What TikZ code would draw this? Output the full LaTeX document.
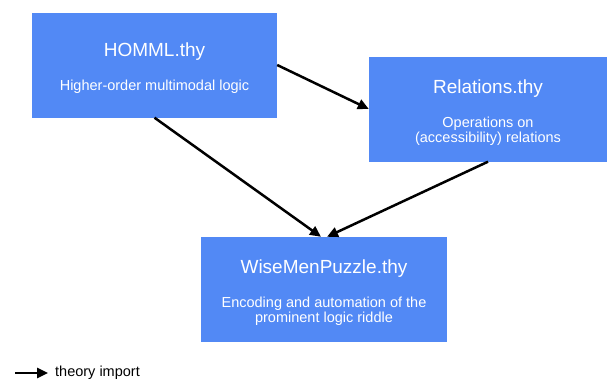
\documentclass[tikz,border=0pt]{standalone}
\usepackage{fontspec}
\setmainfont{Liberation Sans}
\usetikzlibrary{arrows.meta}
\definecolor{thyblue}{RGB}{82,137,245}
\newcommand{\thytitle}[1]{\rule{0pt}{21pt}{\fontsize{19}{21}\selectfont #1}\\[19pt]}

\begin{document}
\begin{tikzpicture}[x=1pt,y=-1pt,
	thybox/.style={fill=thyblue,text=white,align=center,minimum width=#1,minimum height=105pt,inner sep=0pt,font=\fontsize{14.5}{15}\selectfont},
	imp/.style={-{Triangle[length=11pt,width=10pt]},line width=2.5pt}]
	\useasboundingbox (0,0) rectangle (611,380);
	\node[thybox=245pt] (homml) at (154.5,65) {\thytitle{HOMML.thy}Higher-order multimodal logic};
	\node[thybox=238pt] (rel) at (488,109) {\thytitle{Relations.thy}Operations on\\(accessibility) relations};
	\node[thybox=246pt] (wise) at (324,289.5) {\thytitle{WiseMenPuzzle.thy}Encoding and automation of the\\prominent logic riddle};
	\draw[imp] (homml.east) -- (rel.west);
	\draw[imp] (homml.south) -- ([xshift=-3pt]wise.north);
	\draw[imp] (rel.south) -- ([xshift=3pt]wise.north);
	% legend
	\coordinate (legtail) at (15,373);
	\node[anchor=west,inner sep=0pt,font=\fontsize{14.5}{16}\selectfont] (legend) at (55,373) {theory import};
	\draw[imp] (legtail) -- ([xshift=-7pt]legend.west);
\end{tikzpicture}
\end{document}
